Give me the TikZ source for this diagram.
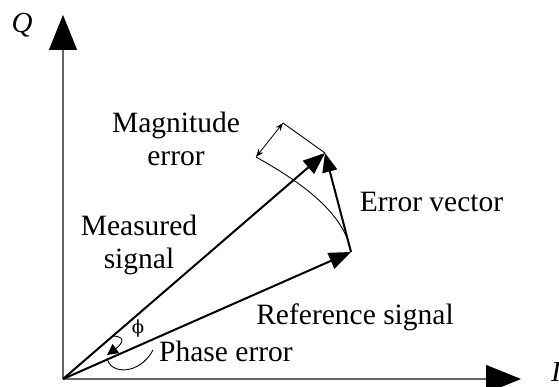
\documentclass[tikz,border=0pt]{standalone}
\usepackage{fontspec}
\setmainfont{Liberation Serif}
\newfontfamily\greekfont{DejaVu Serif}
\usetikzlibrary{arrows.meta}

\begin{document}
\begin{tikzpicture}[
    x=1pt, y=1pt,
    font=\fontsize{29.5}{33}\selectfont,
    axis/.style={line width=1.2pt, black!60, -{Triangle[length=35pt, width=28pt, color=black]}},
    vec/.style={line width=2pt, -{Triangle[length=22pt, width=17pt]}},
    dim/.style={line width=0.8pt, {Stealth[length=8pt, width=6pt]}-{Stealth[length=8pt, width=6pt]}},
    thin line/.style={line width=0.9pt},
    lbl/.style={inner sep=0pt, align=center}
]
\useasboundingbox (0,0) rectangle (559,387);

% axes
\coordinate (O) at (63,8);
\coordinate (Qtip) at (63,372);
\coordinate (Itip) at (521,8);
\draw[axis] (O) -- (Qtip);
\draw[axis] (O) -- (Itip);
\node (Q) [lbl, font=\fontsize{29}{32}\selectfont\itshape] at (22,362) {Q};
\node (I) [lbl, anchor=base west, font=\fontsize{29}{32}\selectfont\itshape] at (551,5) {I};

% vectors
\coordinate (meas) at (325,234);
\coordinate (ref) at (351,135);
\draw[vec] (O) -- (meas);
\draw[vec] (O) -- (ref);
\draw[vec, -{Triangle[length=19pt, width=15pt]}] (ref) -- (meas);

% magnitude error
\coordinate (magA) at (283,264);
\coordinate (magB) at (256,230);
\draw[thin line] (ref) .. controls (345,170) and (310,200) .. (magB);
\draw[thin line] (magA) -- (meas);
\draw[dim] (magA) -- (magB);

% phase error
\coordinate (phA) at (113,51);
\coordinate (phB) at (107,32);
\draw[thin line, -{Triangle[length=11pt, width=11pt]}] (phA) .. controls (130,50) and (118,40) .. (phB);
\node (phi) [lbl, font=\fontsize{18}{20}\selectfont\greekfont] at (138,58) {ϕ};

% labels
\node (mag) [lbl] at (176,248.5) {Magnitude\\error};
\node (err) [lbl, anchor=base] at (431.5,175) {Error vector};
\node (msd) [lbl] at (139,142.5) {Measured\\signal};
\node (rfs) [lbl, anchor=base] at (355,62) {Reference signal};
\node (phe) [lbl, anchor=base] at (226,25) {Phase error};
\draw[thin line] ([xshift=-6pt, yshift=2pt]phe.west) .. controls (140,12) and (110,12) .. (107,29);

\end{tikzpicture}
\end{document}
